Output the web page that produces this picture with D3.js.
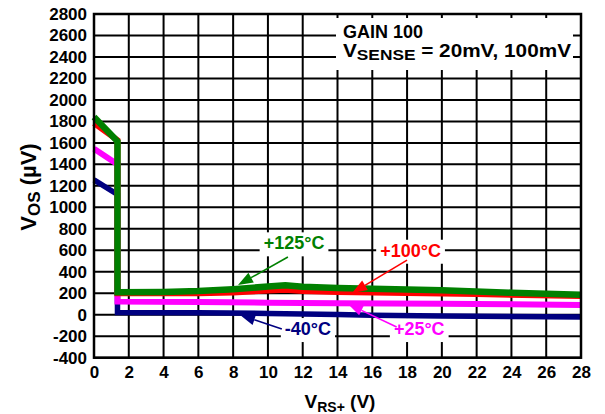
<!DOCTYPE html>
<html>
<head>
<meta charset="utf-8">
<script src="https://cdn.jsdelivr.net/npm/d3@7"></script>
<style>
  html, body { margin: 0; padding: 0; background: #fff; }
  svg { display: block; }
  text { font-family: "Liberation Sans", Arial, Helvetica, sans-serif; font-weight: bold; }
</style>
</head>
<body>
<svg id="chart" width="605" height="414"></svg>
<script>
// ---- data (x in V, y in µV) ----
const xTickValues = [0, 2, 4, 6, 8, 10, 12, 14, 16, 18, 20, 22, 24, 26, 28];
const yTickValues = [-400, -200, 0, 200, 400, 600, 800, 1000, 1200, 1400, 1600, 1800, 2000, 2200, 2400, 2600, 2800];

const seriesNames = ["-40°C", "+25°C", "+100°C", "+125°C"];
const seriesColors = ["#000080", "#ff00ff", "#ff0000", "#008000"];

const vrsM40  = [0, 1.35, 1.35, 6, 10, 14, 16, 20, 24, 28];
const vosM40  = [1255, 1120, 20, 18, 12, 2, -5, -12, -17, -22];

const vrsP25  = [0, 1.35, 1.35, 6, 10, 14, 20, 24, 28];
const vosP25  = [1545, 1400, 122, 118, 112, 106, 103, 97, 90];

const vrsP100 = [0, 1.35, 1.35, 6, 8, 10, 11, 12, 14, 18, 22, 28];
const vosP100 = [1785, 1625, 200, 200, 208, 225, 232, 222, 212, 202, 192, 175];

const vrsP125 = [0, 1.35, 1.35, 4, 6, 8, 10, 11, 12, 14, 16, 20, 24, 28];
const vosP125 = [1842, 1615, 210, 212, 220, 238, 262, 275, 260, 248, 242, 228, 205, 185];

// label annotations: text position (x,y in data) and arrow start/tip (data)
const labelText  = ["+125°C", "+100°C", "-40°C", "+25°C"];
const labelColor = ["#008000", "#ff0000", "#000080", "#ff00ff"];
const labelX     = [11.5, 18.2, 12.3, 18.7];
const labelY     = [609, 540, -189, -189];
const arrowFromX = [11.15, 18.0, 10.8, 17.4];
const arrowFromY = [537, 509, -133, -114];
const arrowToX   = [8.28, 14.84, 8.4, 14.6];
const arrowToY   = [277, 202, -3, 100];

// ---- layout ----
const W = 605, H = 414;
const margin = { left: 94, right: 24, top: 14, bottom: 56.3 };
const svg = d3.select("#chart");

const x = d3.scaleLinear().domain([0, 28]).range([margin.left, W - margin.right]);
const y = d3.scaleLinear().domain([-400, 2800]).range([H - margin.bottom, margin.top]);

// grid
const grid = svg.append("g");
grid.selectAll("line.v").data(xTickValues).enter().append("line")
  .attr("x1", d => x(d)).attr("x2", d => x(d))
  .attr("y1", y(-400)).attr("y2", y(2800))
  .attr("stroke", "#000").attr("stroke-width", 2);
grid.selectAll("line.h").data(yTickValues).enter().append("line")
  .attr("x1", x(0)).attr("x2", x(28))
  .attr("y1", d => y(d)).attr("y2", d => y(d))
  .attr("stroke", "#000").attr("stroke-width", 2);

// header box
svg.append("rect").attr("x", 336).attr("y", 18).attr("width", 237).attr("height", 52).attr("fill", "#fff");
svg.append("text").attr("x", 343).attr("y", 38).attr("font-size", 17.5).attr("fill", "#000")
  .attr("textLength", 80).attr("lengthAdjust", "spacingAndGlyphs").text("GAIN 100");
const t2 = svg.append("text").attr("x", 343).attr("y", 57).attr("font-size", 18).attr("fill", "#000")
  .attr("textLength", 228).attr("lengthAdjust", "spacingAndGlyphs");
t2.append("tspan").text("V");
t2.append("tspan").attr("font-size", 15).attr("dy", 3).text("SENSE");
t2.append("tspan").attr("dy", -3).text(" = 20mV, 100mV");

// label boxes (white backgrounds)
const labelsG = svg.append("g");
labelText.forEach((t, i) => {
  const tx = x(labelX[i]), ty = y(labelY[i]);
  const tmp = labelsG.append("text").attr("x", tx).attr("y", ty).attr("font-size", 18)
    .attr("text-anchor", "middle").text(t);
  const bb = tmp.node().getBBox();
  tmp.remove();
  labelsG.append("rect")
    .attr("x", bb.x - 4).attr("y", bb.y - 1)
    .attr("width", bb.width + 8).attr("height", bb.height + 4)
    .attr("fill", "#fff");
});

// series lines
const lineGen = d3.line().x(d => x(d[0])).y(d => y(d[1]));
const seriesData = [
  d3.zip(vrsM40, vosM40),
  d3.zip(vrsP25, vosP25),
  d3.zip(vrsP100, vosP100),
  d3.zip(vrsP125, vosP125)
];
const widths = [5.5, 6, 6, 6.5];
svg.append("g").selectAll("path").data(seriesData).enter().append("path")
  .attr("d", lineGen)
  .attr("fill", "none")
  .attr("stroke", (d, i) => seriesColors[i])
  .attr("stroke-width", (d, i) => widths[i])
  .attr("stroke-linejoin", "miter");

// arrows + label text
labelText.forEach((t, i) => {
  const x1 = x(arrowFromX[i]), y1 = y(arrowFromY[i]);
  const x2 = x(arrowToX[i]), y2 = y(arrowToY[i]);
  const ang = Math.atan2(y2 - y1, x2 - x1);
  const L = 15, Wd = 5.5;
  const bx = x2 - L * Math.cos(ang), by = y2 - L * Math.sin(ang);
  svg.append("line").attr("x1", x1).attr("y1", y1).attr("x2", bx).attr("y2", by)
    .attr("stroke", labelColor[i]).attr("stroke-width", 1.6);
  const p1 = [bx + Wd * Math.sin(ang), by - Wd * Math.cos(ang)];
  const p2 = [bx - Wd * Math.sin(ang), by + Wd * Math.cos(ang)];
  svg.append("path").attr("d", `M${x2},${y2}L${p1[0]},${p1[1]}L${p2[0]},${p2[1]}Z`)
    .attr("fill", labelColor[i]);
  svg.append("text").attr("x", x(labelX[i])).attr("y", y(labelY[i]))
    .attr("font-size", 18).attr("text-anchor", "middle").attr("fill", labelColor[i]).text(t);
});

// border
svg.append("rect")
  .attr("x", x(0)).attr("y", y(2800))
  .attr("width", x(28) - x(0)).attr("height", y(-400) - y(2800))
  .attr("fill", "none").attr("stroke", "#000").attr("stroke-width", 2.5);

// axes (labels only)
const xAxis = svg.append("g").attr("transform", `translate(0,${y(-400)})`)
  .call(d3.axisBottom(x).tickValues(xTickValues).tickSize(0).tickPadding(8).tickFormat(d => String(d)));
xAxis.select(".domain").remove();
xAxis.selectAll("text").attr("font-size", 17).attr("fill", "#000")
  .style("font-family", '"Liberation Sans", Arial, sans-serif').style("font-weight", "bold");

const yAxis = svg.append("g").attr("transform", `translate(${x(0)},0)`)
  .call(d3.axisLeft(y).tickValues(yTickValues).tickSize(0).tickPadding(7).tickFormat(d => String(d)));
yAxis.select(".domain").remove();
yAxis.selectAll("text").attr("font-size", 17).attr("fill", "#000")
  .style("font-family", '"Liberation Sans", Arial, sans-serif').style("font-weight", "bold");

// axis titles
const xt = svg.append("text").attr("x", 340).attr("y", 408).attr("font-size", 19)
  .attr("text-anchor", "middle").attr("fill", "#000");
xt.append("tspan").text("V");
xt.append("tspan").attr("font-size", 14).attr("dy", 4).text("RS+");
xt.append("tspan").attr("dy", -4).text(" (V)");

const yt = svg.append("text").attr("transform", "translate(36,187) rotate(-90)").attr("font-size", 22)
  .attr("text-anchor", "middle").attr("fill", "#000");
yt.append("tspan").text("V");
yt.append("tspan").attr("font-size", 17).attr("dy", 4).text("OS");
yt.append("tspan").attr("dy", -4).text(" (µV)");
</script>
</body>
</html>
